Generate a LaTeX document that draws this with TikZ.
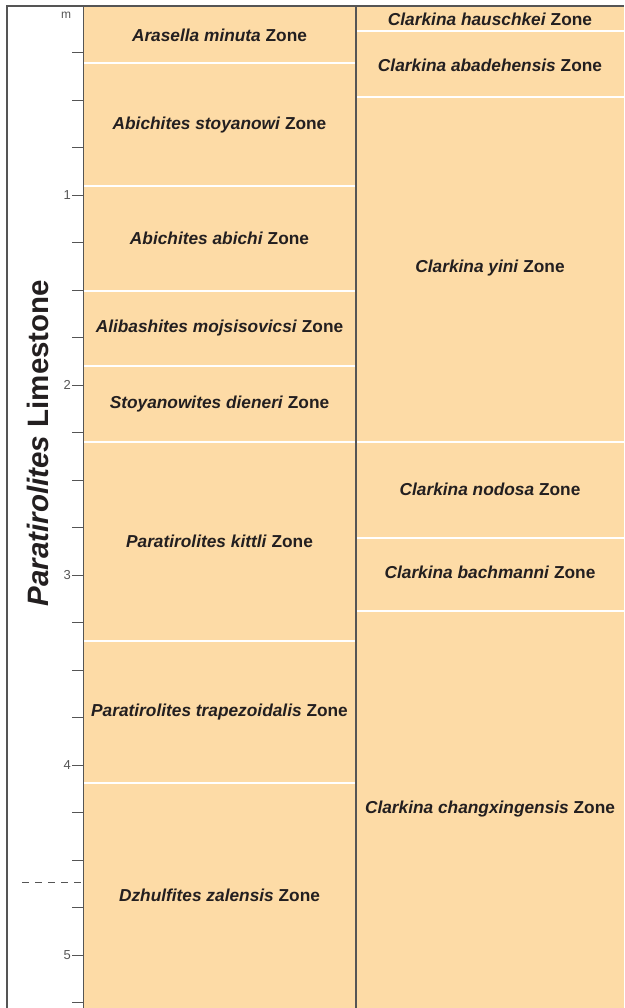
\documentclass[tikz,border=0pt]{standalone}
\usepackage{fontspec}
\setmainfont{Liberation Sans}
\usetikzlibrary{positioning}
\definecolor{zonefill}{RGB}{253,219,166}
\definecolor{framegray}{RGB}{85,85,85}
\definecolor{textgray}{RGB}{35,31,32}

\begin{document}
\begin{tikzpicture}[x=1pt,y=-1pt,
  zone/.style={font=\bfseries\fontsize{17.3}{19}\selectfont, text=textgray},
  sep/.style={white, line width=2.5pt},
  tick/.style={framegray, line width=0.9pt}]
\useasboundingbox (0,0) rectangle (624,1008);
% columns
\fill[zonefill] (83,6) rectangle (624,1008);
\foreach \y in {63,186,291,366,442,641,783} \draw[sep] (84,\y)--(355,\y);
\foreach \y in {31,97,442,538,611} \draw[sep] (357,\y)--(624,\y);
\draw[framegray, line width=1.6pt] (7,1008)--(7,6)--(624,6);
\draw[framegray, line width=1.6pt] (356,6)--(356,1008);
\draw[tick] (83,6)--(83,1008);
% scale
\foreach \i in {1,...,21} \draw[tick] (72,{5+47.5*\i})--(83,{5+47.5*\i});
\node[font=\fontsize{12}{14}\selectfont, text=framegray] (unit) at (66,15) {m};
\foreach \m in {1,...,5}
  \node[left, inner sep=1pt, font=\fontsize{13}{14}\selectfont, text=framegray] (lab\m) at (72,{5+190*\m}) {\m};
\draw[framegray, line width=1pt, dash pattern=on 7pt off 6pt] (22,882)--(83,882);
\node[rotate=90, font=\bfseries\fontsize{29.5}{32}\selectfont, text=textgray] (title) at (38,443) {\textit{Paratirolites} Limestone};
% ammonoid zones
\node[zone] (aminuta) at (219.5,35) {\textit{Arasella minuta} Zone};
\node[zone] (astoyanowi) at (219.5,125) {\textit{Abichites stoyanowi} Zone};
\node[zone] (aabichi) at (219.5,238) {\textit{Abichites abichi} Zone};
\node[zone] (amojsis) at (219.5,328) {\textit{Alibashites mojsisovicsi} Zone};
\node[zone] (sdieneri) at (219.5,404) {\textit{Stoyanowites dieneri} Zone};
\node[zone] (pkittli) at (219.5,541) {\textit{Paratirolites kittli} Zone};
\node[zone] (ptrapez) at (219.5,712) {\textit{Paratirolites trapezoidalis} Zone};
\node[zone] (dzalensis) at (219.5,895) {\textit{Dzhulfites zalensis} Zone};
% conodont zones
\node[zone] (chausch) at (490,19) {\textit{Clarkina hauschkei} Zone};
\node[zone] (cabad) at (490,65) {\textit{Clarkina abadehensis} Zone};
\node[zone] (cyini) at (490,268) {\textit{Clarkina yini} Zone};
\node[zone] (cnodosa) at (490,489) {\textit{Clarkina nodosa} Zone};
\node[zone] (cbach) at (490,572) {\textit{Clarkina bachmanni} Zone};
\node[zone] (cchang) at (490,809) {\textit{Clarkina changxingensis} Zone};
\end{tikzpicture}
\end{document}
